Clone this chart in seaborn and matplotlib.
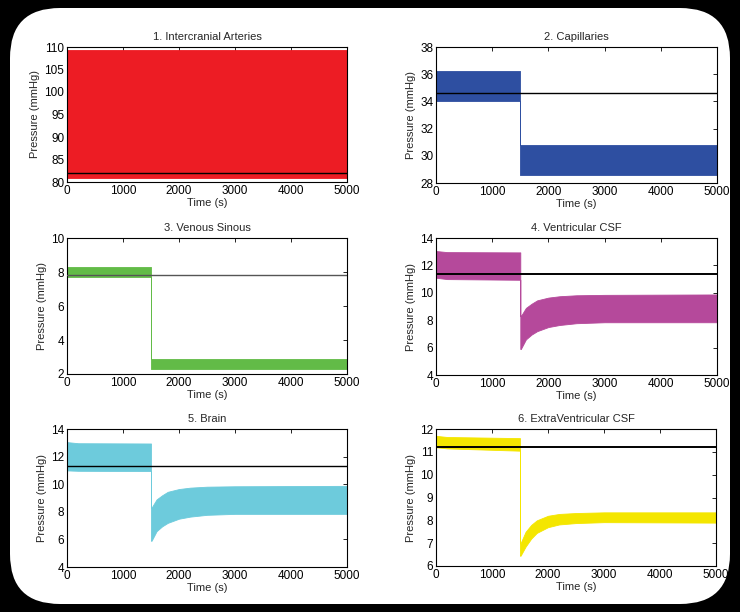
import matplotlib
matplotlib.use("Agg")
import matplotlib.pyplot as plt
from matplotlib.patches import FancyBboxPatch
import seaborn as sns

# panel titles, colours and y ranges
titles = ["1. Intercranial Arteries", "2. Capillaries", "3. Venous Sinous",
          "4. Ventricular CSF", "5. Brain", "6. ExtraVentricular CSF"]
colors = ["#ED1C24", "#2E4FA1", "#62BB47", "#B5499B", "#6DCBDC", "#F4E600"]
ylims = [(80, 110), (28, 38), (2, 10), (4, 14), (4, 14), (6, 12)]
yticks = [[80, 85, 90, 95, 100, 105, 110], [28, 30, 32, 34, 36, 38],
          [2, 4, 6, 8, 10], [4, 6, 8, 10, 12, 14], [4, 6, 8, 10, 12, 14],
          [6, 7, 8, 9, 10, 11, 12]]
# steady reference level (black line)
ref_level = [82.0, 34.6, 7.8, 11.4, 11.35, 11.2]
ref_color = ["black", "black", "#555555", "black", "black", "black"]
ref_width = [1.0, 1.0, 1.0, 1.4, 1.0, 1.4]

# envelope of the oscillating pressure
t_step = [0, 1500, 1500, 5000]
t_recov = [0, 200, 1500, 1500, 1510, 1600, 1700, 1800, 2000, 2200, 2500, 3000, 5000]

art_hi = [109.3, 109.3, 109.3, 109.3]
art_lo = [81.0, 81.0, 81.0, 81.0]
cap_hi = [36.2, 36.2, 30.8, 30.8]
cap_lo = [34.0, 34.0, 28.6, 28.6]
ven_hi = [8.3, 8.3, 2.9, 2.9]
ven_lo = [7.7, 7.7, 2.3, 2.3]
vcsf_hi = [13.05, 12.97, 12.95, 8.3, 8.3, 8.9, 9.2, 9.45, 9.65, 9.75, 9.82, 9.85, 9.88]
vcsf_lo = [11.1, 11.0, 10.95, 5.9, 5.9, 6.6, 6.95, 7.2, 7.5, 7.65, 7.78, 7.85, 7.85]
brain_hi = [13.05, 12.97, 12.95, 8.3, 8.3, 8.9, 9.2, 9.45, 9.65, 9.75, 9.82, 9.85, 9.88]
brain_lo = [11.0, 10.97, 10.95, 5.9, 5.9, 6.6, 6.95, 7.2, 7.5, 7.65, 7.78, 7.85, 7.85]
ecsf_hi = [11.7, 11.65, 11.6, 7.0, 7.0, 7.5, 7.8, 8.0, 8.2, 8.28, 8.32, 8.35, 8.35]
ecsf_lo = [11.2, 11.15, 11.05, 6.45, 6.45, 6.85, 7.2, 7.45, 7.7, 7.82, 7.88, 7.92, 7.9]

times = [t_step, t_step, t_step, t_recov, t_recov, t_recov]
uppers = [art_hi, cap_hi, ven_hi, vcsf_hi, brain_hi, ecsf_hi]
lowers = [art_lo, cap_lo, ven_lo, vcsf_lo, brain_lo, ecsf_lo]

sns.set_style("white")
plt.rcParams["font.family"] = ["Liberation Sans", "DejaVu Sans"]
plt.rcParams["font.size"] = 8

W, H = 740, 612
fig = plt.figure(figsize=(W / 100, H / 100), dpi=100, facecolor="black")

# white rounded card on the black background, drawn in a background axes
bg = fig.add_axes([0, 0, 1, 1], zorder=-10)
bg.set_xlim(0, W)
bg.set_ylim(H, 0)
bg.axis("off")
bg.add_patch(FancyBboxPatch((40, 38), W - 80, H - 76,
                            boxstyle="round,pad=30,rounding_size=50",
                            facecolor="white", edgecolor="none"))

# axes boxes in pixels: left, top, right, bottom
boxes = [(67, 47, 347, 182), (436, 47, 717, 183),
         (67, 238, 347, 374), (436, 238, 717, 375),
         (67, 429, 347, 567), (436, 429, 716, 566)]

for i, (l, t, r, b) in enumerate(boxes):
    ax = fig.add_axes([l / W, 1 - b / H, (r - l) / W, (b - t) / H])
    ax.set_facecolor("white")
    ax.fill_between(times[i], lowers[i], uppers[i], color=colors[i],
                    linewidth=0.6, edgecolor=colors[i], zorder=2)
    sns.lineplot(x=[0, 5000], y=[ref_level[i], ref_level[i]], ax=ax,
                 color=ref_color[i], linewidth=ref_width[i], zorder=3)
    ax.set_xlim(0, 5000)
    ax.set_ylim(*ylims[i])
    ax.set_xticks([0, 1000, 2000, 3000, 4000, 5000])
    ax.set_yticks(yticks[i])
    ax.tick_params(direction="in", length=3, width=0.6, top=True, right=True,
                   labelsize=8.5, pad=2, colors="black")
    for s in ax.spines.values():
        s.set_visible(True)
        s.set_color("black")
        s.set_linewidth(0.8)
    ax.set_title(titles[i], fontsize=8, pad=5)
    ax.set_xlabel("Time (s)", fontsize=8, labelpad=1)
    ax.set_ylabel("Pressure (mmHg)", fontsize=8, labelpad=3)

fig.savefig("out.png", dpi=100, facecolor="black")
